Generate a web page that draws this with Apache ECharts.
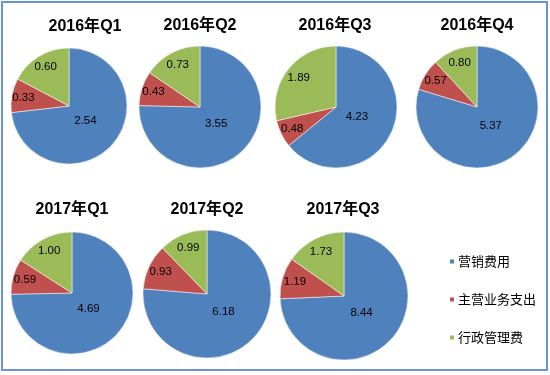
<!DOCTYPE html>
<html>
<head>
<meta charset="utf-8">
<title>费用构成</title>
<script src="https://cdn.jsdelivr.net/npm/echarts@6/dist/echarts.min.js"></script>
<style>
  html, body { margin: 0; padding: 0; background: #fff; }
  #main { width: 550px; height: 375px; }
</style>
</head>
<body>
<div id="main"></div>
<script type="text/javascript">
// 数据
var quarters = ['2016年Q1', '2016年Q2', '2016年Q3', '2016年Q4', '2017年Q1', '2017年Q2', '2017年Q3'];
var categories = ['营销费用', '主营业务支出', '行政管理费'];
var marketing = [2.54, 3.55, 4.23, 5.37, 4.69, 6.18, 8.44];
var mainBiz = [0.33, 0.43, 0.48, 0.57, 0.59, 0.93, 1.19];
var admin = [0.60, 0.73, 1.89, 0.80, 1.00, 0.99, 1.73];

// 每个饼图的位置
var centers = [[69, 106], [200, 107], [336, 107], [477, 107], [72, 293], [207, 294], [344, 296]];
var radii = [58, 61, 61, 61, 61, 64, 64];
var titlePos = [[85, 25], [200, 24], [335, 24], [477, 24], [72, 208], [207, 208], [343, 208]];
var colors = ['#4F81BD', '#C0504D', '#9BBB59'];
var labelRatio = [0.38, 0.8, 0.78];

var myChart = echarts.init(document.getElementById('main'));

function values(i) {
    return [marketing[i], mainBiz[i], admin[i]];
}

var titles = [], series = [];
for (var i = 0; i < quarters.length; i++) {
    titles.push({
        text: quarters[i],
        left: titlePos[i][0],
        top: titlePos[i][1] - 6,
        textAlign: 'center',
        padding: 0,
        textStyle: {
            fontFamily: 'Liberation Sans, Noto Sans CJK SC',
            fontSize: 16,
            fontWeight: 'bold',
            color: '#000'
        }
    });
    var v = values(i);
    series.push({
        type: 'pie',
        center: centers[i],
        radius: radii[i],
        startAngle: 90,
        clockwise: true,
        silent: true,
        color: colors,
        itemStyle: { borderColor: '#fff', borderWidth: 0.5 },
        label: {
            position: 'inside',
            fontFamily: 'Liberation Sans',
            fontSize: 11.5,
            color: '#000',
            formatter: function (p) { return p.value.toFixed(2); }
        },
        labelLayout: (function (idx) {
            return function (params) {
                var vs = values(idx);
                var total = vs[0] + vs[1] + vs[2];
                var before = 0;
                for (var k = 0; k < params.dataIndex; k++) before += vs[k];
                var mid = (before + vs[params.dataIndex] / 2) / total * Math.PI * 2;
                var d = radii[idx] * labelRatio[params.dataIndex];
                return {
                    x: centers[idx][0] + d * Math.sin(mid),
                    y: centers[idx][1] - d * Math.cos(mid),
                    align: 'center',
                    verticalAlign: 'middle'
                };
            };
        })(i),
        data: categories.map(function (c, j) { return { name: c, value: v[j] }; })
    });
}

myChart.setOption({
    animation: false,
    title: titles,
    legend: {
        orient: 'vertical',
        left: 443,
        top: 250,
        itemWidth: 6,
        itemHeight: 6,
        itemGap: 25,
        icon: 'rect',
        data: categories,
        textStyle: {
            fontFamily: 'Noto Sans CJK SC',
            fontSize: 13,
            color: '#000',
            padding: [0, 0, 0, -2]
        }
    },
    graphic: [{
        type: 'rect',
        shape: { x: 2, y: 2, width: 545, height: 368 },
        style: { fill: null, stroke: '#6A94D4', lineWidth: 2 },
        silent: true
    }],
    series: series
});
</script>
</body>
</html>
